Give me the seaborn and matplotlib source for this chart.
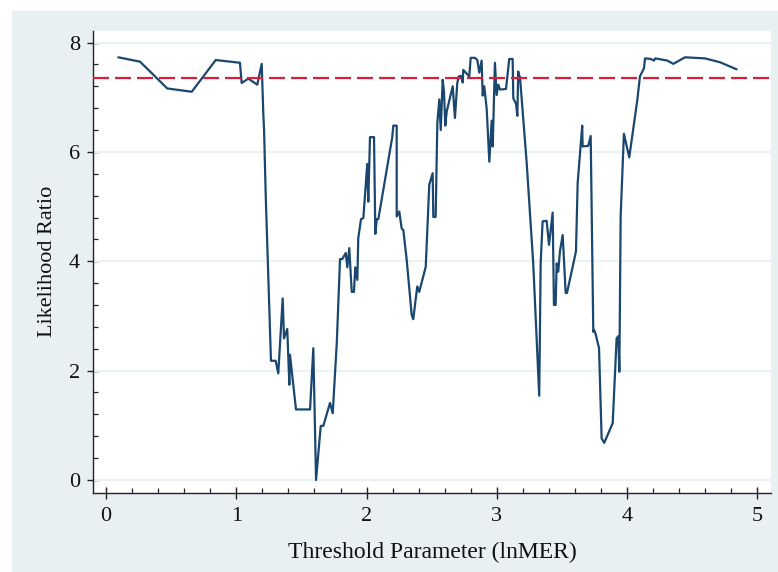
import matplotlib
matplotlib.use("Agg")
import matplotlib.pyplot as plt
import matplotlib.patches as mpatches
from matplotlib.ticker import MultipleLocator
import numpy as np
import pandas as pd
import seaborn as sns

# ---- data ----
threshold = [
    0.094, 0.261, 0.470, 0.658, 0.842, 1.028, 1.041, 1.092, 1.161, 1.195,
    1.207, 1.213, 1.226, 1.246, 1.266, 1.302, 1.322, 1.356, 1.366, 1.391,
    1.407, 1.412, 1.458, 1.566, 1.591, 1.612, 1.648, 1.668, 1.719, 1.740,
    1.771, 1.796, 1.813, 1.840, 1.852, 1.867, 1.886, 1.903, 1.913, 1.929,
    1.936, 1.957, 1.975, 2.005, 2.013, 2.026, 2.057, 2.067, 2.078, 2.090,
    2.197, 2.205, 2.231, 2.231, 2.251, 2.269, 2.282, 2.308, 2.346, 2.358,
    2.389, 2.404, 2.454, 2.481, 2.507, 2.512, 2.530, 2.543, 2.558, 2.569,
    2.584, 2.594, 2.604, 2.615, 2.661, 2.678, 2.696, 2.707, 2.724, 2.738,
    2.742, 2.788, 2.799, 2.832, 2.850, 2.865, 2.883, 2.891, 2.903, 2.922,
    2.942, 2.960, 2.968, 2.985, 2.998, 3.011, 3.024, 3.070, 3.095, 3.121,
    3.126, 3.147, 3.157, 3.164, 3.172, 3.177, 3.229, 3.279, 3.325, 3.336,
    3.351, 3.382, 3.400, 3.428, 3.438, 3.451, 3.459, 3.471, 3.484, 3.505,
    3.528, 3.538, 3.607, 3.620, 3.655, 3.658, 3.701, 3.720, 3.740, 3.747,
    3.758, 3.784, 3.804, 3.824, 3.889, 3.919, 3.932, 3.940, 3.950, 3.975,
    4.016, 4.047, 4.078, 4.098, 4.129, 4.137, 4.180, 4.206, 4.216, 4.308,
    4.354, 4.444, 4.597, 4.712, 4.840,
]
likelihood_ratio = [
    7.73, 7.65, 7.16, 7.10, 7.68, 7.63, 7.26, 7.34, 7.23, 7.61,
    6.71, 6.40, 5.18, 3.66, 2.18, 2.18, 1.95, 3.32, 2.59, 2.76,
    1.74, 2.29, 1.29, 1.29, 2.41, 0.00, 0.99, 0.99, 1.41, 1.22,
    2.50, 4.04, 4.04, 4.15, 3.89, 4.24, 3.44, 3.44, 3.89, 3.66,
    4.42, 4.77, 4.79, 5.78, 5.09, 6.27, 6.27, 4.50, 4.77, 4.77,
    6.27, 6.48, 6.48, 4.82, 4.91, 4.60, 4.57, 4.02, 3.02, 2.94,
    3.54, 3.44, 3.90, 5.40, 5.61, 4.81, 4.81, 6.53, 6.96, 6.40,
    7.32, 7.10, 6.48, 6.74, 7.20, 6.62, 7.26, 7.38, 7.39, 7.27,
    7.50, 7.38, 7.72, 7.72, 7.68, 7.45, 7.67, 7.03, 7.20, 6.78,
    5.82, 6.57, 6.10, 7.63, 7.04, 7.23, 7.14, 7.15, 7.70, 7.70,
    6.98, 6.88, 6.66, 7.47, 7.32, 7.38, 5.79, 3.96, 1.54, 3.96,
    4.73, 4.74, 4.30, 4.89, 3.20, 3.20, 3.96, 3.81, 4.18, 4.48,
    3.42, 3.42, 4.18, 5.43, 6.48, 6.10, 6.11, 6.29, 2.71, 2.74,
    2.67, 2.41, 0.76, 0.68, 1.04, 2.59, 2.63, 1.98, 4.82, 6.33,
    5.90, 6.43, 6.95, 7.38, 7.53, 7.71, 7.70, 7.67, 7.71, 7.67,
    7.61, 7.73, 7.71, 7.64, 7.51,
]
critical_value = 7.35
x_ticks = [0, 1, 2, 3, 4, 5]
y_ticks = [0, 2, 4, 6, 8]
x_label = "Threshold Parameter (lnMER)"
y_label = "Likelihood Ratio"

df = pd.DataFrame({"threshold": threshold, "lr": likelihood_ratio})

# ---- style ----
sns.set_theme(style="white")
plt.rcParams["font.family"] = ["Liberation Serif", "DejaVu Serif"]

W, H = 778, 572
fig = plt.figure(figsize=(W / 100, H / 100), dpi=100)
fig.patch.set_facecolor("white")
bg = "#e9f0f2"
bg_rect = mpatches.Rectangle((12 / W, 0), 1 - 12 / W, 1 - 11 / H,
                             transform=fig.transFigure, facecolor=bg,
                             edgecolor="none", zorder=-10)
fig.add_artist(bg_rect)

left, right, top, bottom = 93, 771, 30.5, 493
ax = fig.add_axes([left / W, (H - bottom) / H, (right - left) / W, (bottom - top) / H])
ax.set_zorder(5)
ax.set_facecolor("white")

sns.lineplot(data=df, x="threshold", y="lr", ax=ax, estimator=None, sort=False,
             color="#1a476f", linewidth=1.6, zorder=3)
ax.axhline(critical_value, color="#dc1e3c", linewidth=1.6,
           linestyle=(0, (7.2, 2.7)), zorder=4)

ax.set_xlim(-0.10, 5.104)
ax.set_ylim(-0.238, 8.22)
ax.set_xticks(x_ticks)
ax.set_yticks(y_ticks)
ax.xaxis.set_minor_locator(MultipleLocator(0.2))
ax.yaxis.set_minor_locator(MultipleLocator(0.4))

ax.grid(False)
for yv in y_ticks:
    ax.axhline(yv, color="#eaf2f3", linewidth=1.6, zorder=1)

for s in ["top", "right"]:
    ax.spines[s].set_visible(False)
for s in ["left", "bottom"]:
    ax.spines[s].set_color("#222222")
    ax.spines[s].set_linewidth(1.0)

ax.tick_params(axis="both", which="both", bottom=True, left=True,
               top=False, right=False)
ax.tick_params(axis="both", which="major", direction="inout", length=8.5,
               width=1.0, color="#222222", labelsize=16, labelcolor="#111111")
ax.tick_params(axis="both", which="minor", direction="in", length=3.5,
               width=0.9, color="#222222")
ax.tick_params(axis="y", which="major", pad=5)
ax.tick_params(axis="x", which="major", pad=6)

ax.set_xlabel(x_label, fontsize=17, color="#111111", labelpad=11)
ax.set_ylabel(y_label, fontsize=16, color="#111111", labelpad=9)

fig.savefig("out.png", dpi=100, facecolor=fig.get_facecolor())
